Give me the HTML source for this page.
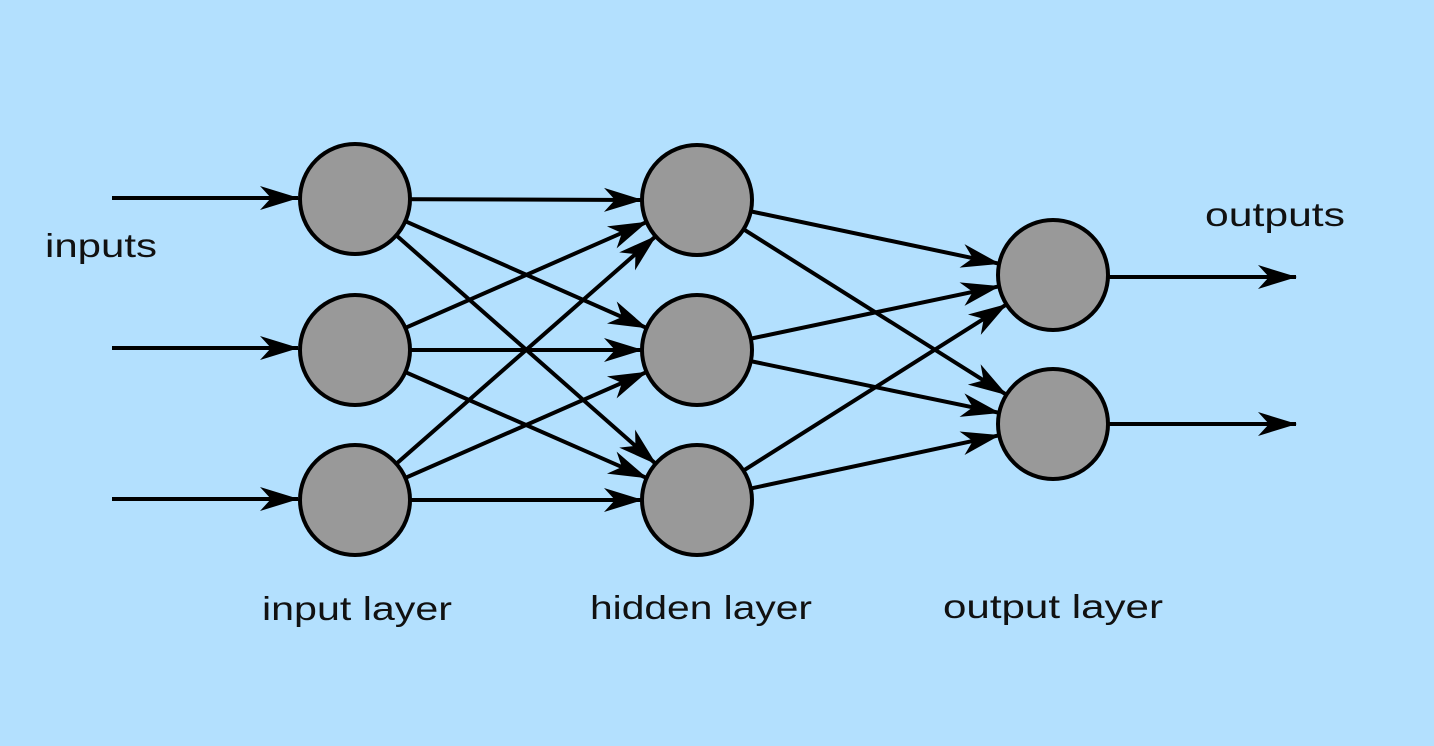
<!DOCTYPE html>
<html><head><style>html,body{margin:0;padding:0;background:#b3e0fe;}svg{display:block}</style></head>
<body>
<svg width="1434" height="746" viewBox="0 0 1434 746" xmlns="http://www.w3.org/2000/svg">
<defs>
<marker id="a" markerUnits="userSpaceOnUse" viewBox="-40 -13 42 26" markerWidth="42" markerHeight="26" refX="0" refY="0" orient="auto">
<path d="M1,0 L-38,-12 L-27,0 L-38,12 z" fill="#000"/>
</marker>
</defs>
<rect width="1434" height="746" fill="#b3e0fe"/>
<g stroke="#000" stroke-width="4" fill="none" marker-end="url(#a)">
<line x1="112" y1="198" x2="298" y2="198"/>
<line x1="112" y1="348" x2="298" y2="348"/>
<line x1="112" y1="499" x2="298" y2="499"/>
<line x1="1108" y1="277" x2="1296" y2="277"/>
<line x1="1108" y1="424" x2="1296" y2="424"/>
<!-- I1 -->
<line x1="355" y1="199" x2="642" y2="200"/>
<line x1="355" y1="199" x2="646.6" y2="327.9"/>
<line x1="355" y1="199" x2="655.7" y2="463.7"/>
<!-- I2 -->
<line x1="355" y1="350" x2="646.6" y2="222.1"/>
<line x1="355" y1="350" x2="642" y2="350"/>
<line x1="355" y1="350" x2="646.6" y2="477.9"/>
<!-- I3 -->
<line x1="355" y1="500" x2="655.7" y2="236.3"/>
<line x1="355" y1="500" x2="646.6" y2="372.1"/>
<line x1="355" y1="500" x2="642" y2="500"/>
<!-- H -->
<line x1="697" y1="200" x2="999.2" y2="263.7"/>
<line x1="697" y1="200" x2="1006.4" y2="394.7"/>
<line x1="697" y1="350" x2="999.2" y2="286.3"/>
<line x1="697" y1="350" x2="999.2" y2="412.8"/>
<line x1="697" y1="500" x2="1006.5" y2="304.4"/>
<line x1="697" y1="500" x2="999.2" y2="435.3"/>
</g>
<g fill="#999" stroke="#000" stroke-width="4">
<circle cx="355" cy="199" r="55"/>
<circle cx="355" cy="350" r="55"/>
<circle cx="355" cy="500" r="55"/>
<circle cx="697" cy="200" r="55"/>
<circle cx="697" cy="350" r="55"/>
<circle cx="697" cy="500" r="55"/>
<circle cx="1053" cy="275" r="55"/>
<circle cx="1053" cy="424" r="55"/>
</g>
<g font-family="Liberation Sans, sans-serif" font-size="33" fill="#111">
<text x="45" y="257" textLength="112" lengthAdjust="spacingAndGlyphs">inputs</text>
<text x="1205" y="226" textLength="140" lengthAdjust="spacingAndGlyphs">outputs</text>
<text x="262" y="620" textLength="190" lengthAdjust="spacingAndGlyphs">input layer</text>
<text x="590" y="619" textLength="222" lengthAdjust="spacingAndGlyphs">hidden layer</text>
<text x="943" y="618" textLength="220" lengthAdjust="spacingAndGlyphs">output layer</text>
</g>
</svg>
</body></html>
